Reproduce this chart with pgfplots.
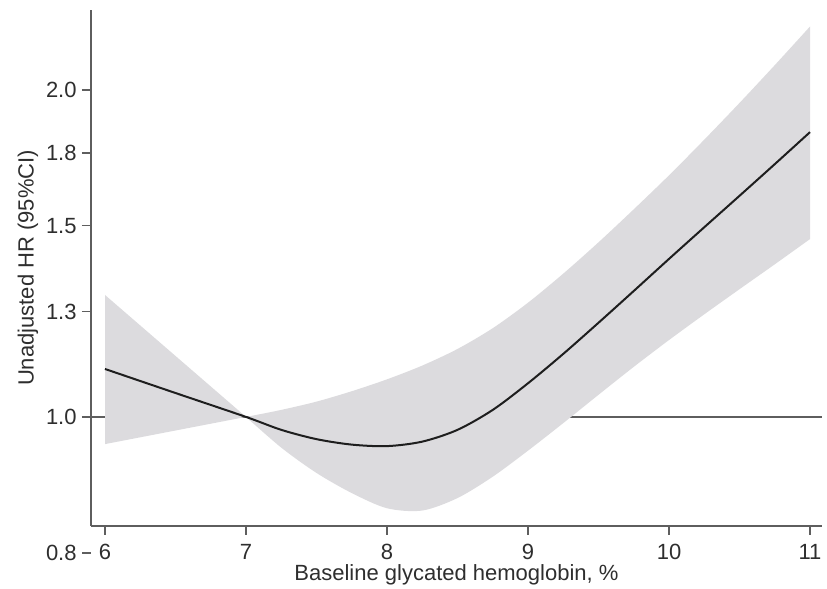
\documentclass[border=0pt]{standalone}
\usepackage{fontspec}
\setmainfont{Liberation Sans}
\usepackage{pgfplots}
\usepackage{pgfplotstable}
\pgfplotsset{compat=1.18}
\usepgfplotslibrary{fillbetween}

\definecolor{bandgray}{HTML}{DCDBDE}
\definecolor{axisgray}{HTML}{5E5E5E}
\definecolor{curveblack}{HTML}{1E1E1E}

% 95% CI below the first knot (straight in log scale)
\pgfplotstableread{
x      upper  lower
6.00   1.295  0.944
7.00   1.000  1.000
}\bandA

% 95% CI above the reference value
\pgfplotstableread{
x      upper  lower
7.00   1.000  1.000
7.25   1.015  0.937
7.50   1.033  0.888
7.75   1.056  0.851
8.00   1.083  0.824
8.25   1.115  0.820
8.50   1.155  0.842
8.75   1.207  0.881
9.00   1.274  0.931
9.25   1.355  0.987
9.50   1.448  1.048
9.75   1.553  1.112
10.00  1.669  1.177
10.25  1.800  1.243
10.50  1.946  1.311
10.75  2.108  1.382
11.00  2.288  1.458
}\bandB

% hazard ratio
\pgfplotstableread{
x      hr
6.00   1.107
6.50   1.052
7.00   1.000
7.25   0.973
7.50   0.954
7.75   0.943
8.00   0.940
8.25   0.949
8.50   0.973
8.75   1.015
9.00   1.074
9.25   1.143
9.50   1.221
9.75   1.306
10.00  1.398
10.25  1.495
10.50  1.598
10.75  1.709
11.00  1.829
}\hrdata

\begin{document}
\begin{tikzpicture}
\begin{axis}[
    name=ax,
    set layers,
    scale only axis,
    width=365.5pt, height=258pt,
    ymode=log,
    xmin=5.9007, xmax=11.085,
    ymin=0.7937, ymax=2.3694,
    axis x line*=bottom, axis y line*=left,
    axis line style={axisgray, line width=0.9pt},
    every tick/.style={axisgray, line width=0.8pt},
    tick align=outside,
    major tick length=4.5pt,
    xtick={6,7,8,9,10,11},
    xticklabels={6,7,8,9,10,11},
    ytick={1,1.25,1.5,1.75,2},
    yticklabels={1.0,1.3,1.5,1.8,2.0},
    minor ytick={},
    ticklabel style={font=\fontsize{11}{13}\selectfont, text=black!82},
    yticklabel style={anchor=east, inner sep=0pt, xshift=-2.5pt},
    xticklabel style={anchor=base, inner sep=0pt, yshift=-12.5pt},
    xlabel={Baseline glycated hemoglobin, \%},
    ylabel={Unadjusted HR (95\%CI)},
    label style={font=\fontsize{11}{13}\selectfont, text=black!82},
    xlabel style={at={(axis description cs:0.5,0)}, anchor=base, inner sep=0pt, yshift=-27.5pt},
    ylabel style={at={(axis description cs:0,0.5)}, anchor=center, inner sep=0pt, yshift=31.5pt},
    clip=false,
]
% reference line at HR = 1, lies under the band
\addplot[axisgray, line width=0.75pt, on layer=axis grid] coordinates {(5.9007,1) (11.085,1)};

\addplot[name path=upA, draw=none, forget plot] table[x=x, y=upper] {\bandA};
\addplot[name path=loA, draw=none, forget plot] table[x=x, y=lower] {\bandA};
\addplot[bandgray, draw=none] fill between[of=upA and loA];

\addplot[name path=upB, draw=none, smooth, forget plot] table[x=x, y=upper] {\bandB};
\addplot[name path=loB, draw=none, smooth, forget plot] table[x=x, y=lower] {\bandB};
\addplot[bandgray, draw=none] fill between[of=upB and loB];

\addplot[curveblack, line width=1pt, smooth] table[x=x, y=hr] {\hrdata};

% Stata puts the lowest y tick below the x axis
\draw[axisgray, line width=0.8pt] (axis cs:5.9007,0.75) -- ++(-4.5pt,0pt);
\node[anchor=east, inner sep=0pt, xshift=-7pt, font=\fontsize{11}{13}\selectfont, text=black!82] at (axis cs:5.9007,0.75) {0.8};
\end{axis}
\pgfresetboundingbox
\path (ax.south west) ++(-45.5pt,-31.5pt) coordinate (bl);
\path (ax.south west) ++(368pt,263pt) coordinate (tr);
\path (bl) rectangle (tr);
\end{tikzpicture}
\end{document}
